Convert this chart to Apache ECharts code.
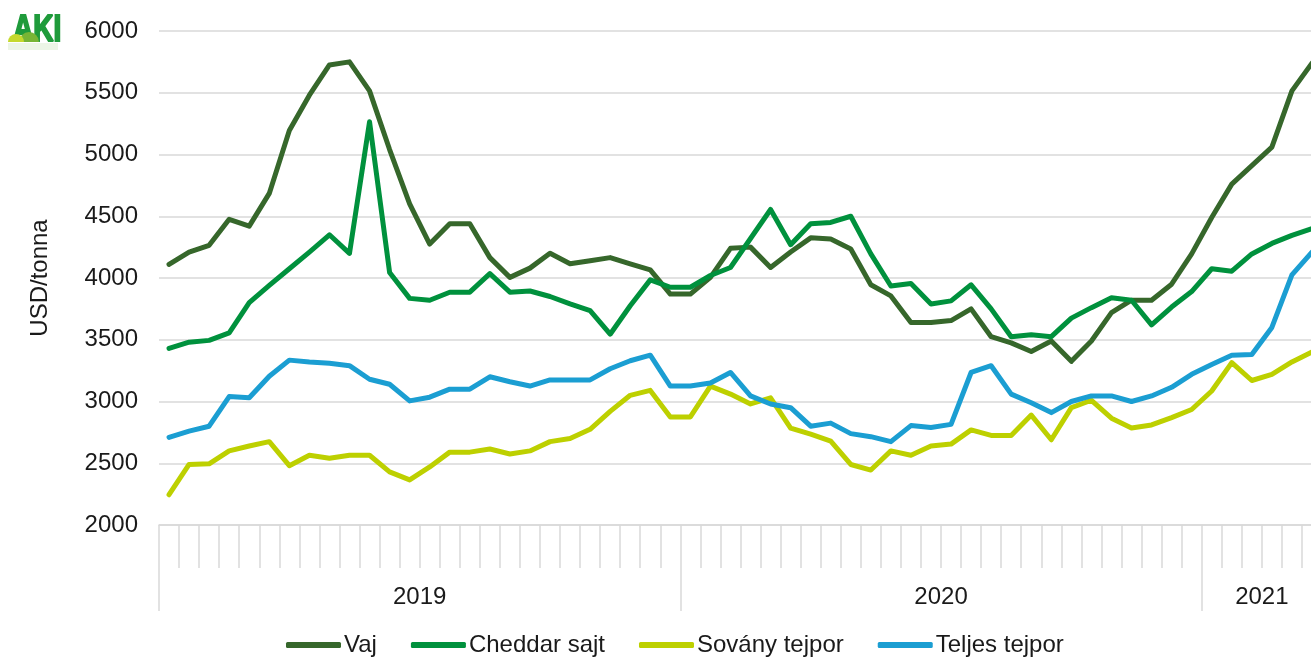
<!DOCTYPE html>
<html>
<head>
<meta charset="utf-8">
<script src="https://cdn.jsdelivr.net/npm/echarts@6/dist/echarts.min.js"></script>
<style>
  html, body { margin: 0; padding: 0; background: #fff; overflow: hidden; }
  /* a little wider than the window: the last 2021 point sits on the picture's right edge */
  #chart { width: 1322px; height: 657px; }
</style>
</head>
<body>
<div id="chart"></div>
<script>
// years on the lower axis and how many (fortnightly) prices fall in each
const years = ['2019', '2020', '2021'];
const pricesPerYear = [26, 26, 6];

// USD/tonna
const vaj = [4110, 4210, 4265, 4475, 4420, 4685, 5195, 5480, 5725, 5750, 5515, 5040, 4600, 4275,
  4440, 4440, 4165, 4005, 4080, 4200, 4115, 4140, 4165, 4115, 4065, 3870,
  3870, 4005, 4240, 4250, 4085, 4210, 4325, 4315, 4235, 3945, 3855, 3640, 3640, 3655,
  3750, 3525, 3475, 3405, 3490, 3325, 3490, 3720, 3820, 3820, 3950, 4195,
  4490, 4760, 4910, 5060, 5515, 5740];
const cheddar = [3430, 3480, 3495, 3555, 3800, 3940, 4075, 4210, 4350, 4200, 5265, 4045, 3835, 3820,
  3885, 3885, 4035, 3885, 3895, 3850, 3790, 3735, 3545, 3775, 3985, 3925,
  3925, 4020, 4085, 4320, 4555, 4270, 4440, 4450, 4500, 4195, 3935, 3955, 3790, 3815,
  3945, 3750, 3525, 3540, 3525, 3675, 3760, 3840, 3820, 3620, 3765, 3890,
  4075, 4055, 4195, 4280, 4345, 4400];
const sovany = [2245, 2490, 2495, 2600, 2640, 2675, 2480, 2565, 2540, 2565, 2565, 2430, 2365, 2470,
  2590, 2590, 2615, 2575, 2600, 2675, 2700, 2775, 2920, 3050, 3090, 2875,
  2875, 3125, 3060, 2980, 3030, 2785, 2735, 2680, 2490, 2445, 2600, 2565, 2640, 2655,
  2770, 2725, 2725, 2890, 2690, 2950, 3010, 2865, 2785, 2810, 2870, 2935,
  3085, 3315, 3170, 3220, 3320, 3400];
const teljes = [2710, 2760, 2800, 3040, 3030, 3205, 3335, 3320, 3310, 3290, 3180, 3140, 3005, 3035,
  3100, 3100, 3200, 3160, 3125, 3175, 3175, 3175, 3265, 3330, 3375, 3125,
  3125, 3150, 3235, 3045, 2980, 2950, 2800, 2825, 2740, 2715, 2675, 2805, 2790, 2815,
  3235, 3290, 3060, 2990, 2910, 3000, 3045, 3045, 3000, 3045, 3115, 3220,
  3300, 3375, 3380, 3600, 4025, 4210];

const seriesNames = ['Vaj', 'Cheddar sajt', 'Sovány tejpor', 'Teljes tejpor'];
const seriesColors = ['#36672b', '#00913d', '#bdd000', '#1b9ed2'];

// category per price point, tagged with its year
let cats = [];
let yearOfCat = [];
let yearStart = [];
let yearMid = [];
years.forEach((y, k) => {
  yearStart.push(cats.length);
  yearMid.push(cats.length + Math.floor(pricesPerYear[k] / 2));
  for (let i = 0; i < pricesPerYear[k]; i++) {
    cats.push(y + '-' + (i + 1));
    yearOfCat.push(y);
  }
});

const font = 'Liberation Sans';
const txt = '#1a1a1a';
const gridCol = '#d9d9d9';

let myChart = echarts.init(document.getElementById('chart'));
myChart.setOption({
  animation: false,
  textStyle: { fontFamily: font },
  grid: { left: 159, right: 0, top: 31, bottom: 132 },
  graphic: [
    // AKI logo, roughly
    { type: 'rect', shape: { x: 8, y: 43, width: 50, height: 7 }, style: { fill: '#e4f1dc', opacity: 0.7 } },
    {
      type: 'text', x: 13, y: 13, scaleX: 0.78,
      style: { text: 'AKI', font: 'bold 36px ' + font, fill: '#1f9b3b', stroke: '#1f9b3b', lineWidth: 2 }
    },
    { type: 'sector', shape: { cx: 29, cy: 42, r: 10, startAngle: Math.PI, endAngle: 2 * Math.PI }, style: { fill: '#78b535' } },
    { type: 'sector', shape: { cx: 16, cy: 42, r: 8, startAngle: Math.PI, endAngle: 2 * Math.PI }, style: { fill: '#c5d92d' } }
  ],
  legend: {
    left: 281,
    top: 628,
    icon: 'roundRect',
    itemWidth: 55,
    itemHeight: 6,
    itemGap: 34,
    data: seriesNames,
    textStyle: { fontSize: 24, color: txt, fontFamily: font, padding: [0, 0, 0, -2] }
  },
  xAxis: [
    {
      type: 'category',
      data: cats,
      boundaryGap: true,
      axisLine: { show: true, lineStyle: { color: gridCol, width: 1.5 } },
      axisTick: { show: true, interval: 0, length: 43, lineStyle: { color: gridCol, width: 1.5 } },
      axisLabel: { show: false }
    },
    {
      type: 'category',
      data: yearOfCat,
      position: 'bottom',
      boundaryGap: true,
      axisLine: { show: false },
      axisTick: {
        show: true,
        length: 86,
        interval: (i) => yearStart.includes(i),
        lineStyle: { color: gridCol, width: 1.5 }
      },
      axisLabel: {
        interval: (i) => yearMid.includes(i),
        margin: 60,
        fontSize: 24,
        color: txt,
        padding: [0, 20, 0, 0]
      }
    }
  ],
  yAxis: {
    type: 'value',
    min: 2000,
    max: 6000,
    interval: 500,
    name: 'USD/tonna',
    nameLocation: 'middle',
    nameRotate: 90,
    nameGap: 107,
    nameTextStyle: { fontSize: 24, color: txt },
    axisLine: { show: false },
    axisTick: { show: false },
    axisLabel: { fontSize: 24, color: txt, margin: 21, formatter: (v) => String(v) },
    splitLine: { lineStyle: { color: gridCol, width: 1.5 } }
  },
  series: [vaj, cheddar, sovany, teljes].map((d, k) => ({
    name: seriesNames[k],
    type: 'line',
    data: d,
    symbol: 'none',
    color: seriesColors[k],
    lineStyle: { width: 5, color: seriesColors[k], cap: 'round', join: 'round' }
  }))
});
</script>
</body>
</html>
